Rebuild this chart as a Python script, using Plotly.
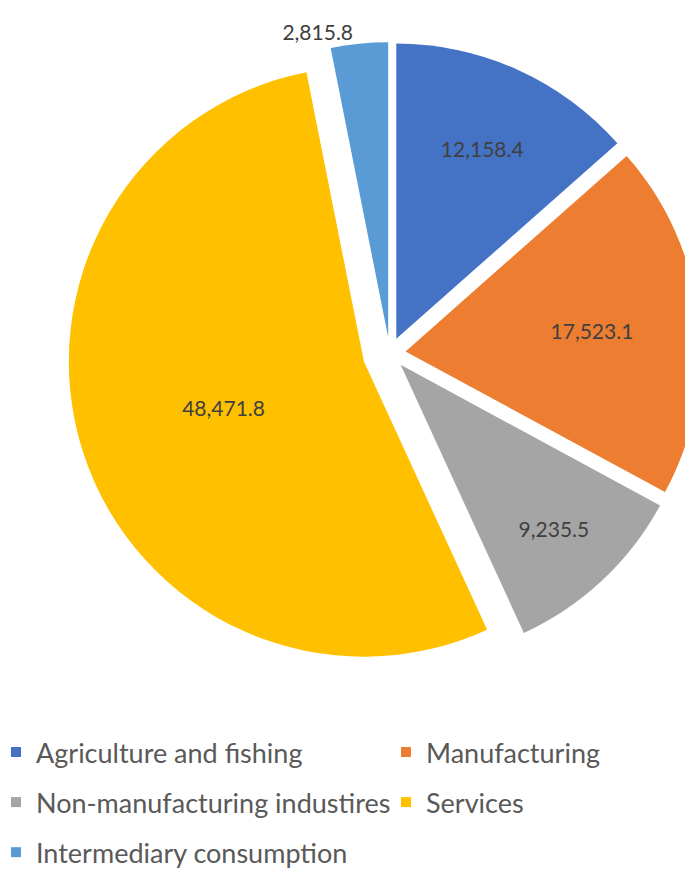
import plotly.graph_objects as go

categories = ["Agriculture and fishing", "Manufacturing", "Non-manufacturing industires",
              "Services", "Intermediary consumption"]
values = [12158.4, 17523.1, 9235.5, 48471.8, 2815.8]
colors = ["#4472C4", "#ED7D31", "#A5A5A5", "#FFC000", "#5B9BD5"]
explode = [0.054, 0.054, 0.054, 0.092, 0.054]
text_positions = ["inside", "inside", "inside", "inside", "outside"]

# legend layout: which legend column each category belongs to
legend_column = ["legend", "legend2", "legend", "legend2", "legend"]

FONT = "Lato"
W, H = 704, 862

fig = go.Figure()
fig.add_trace(go.Pie(
    labels=categories,
    values=values,
    sort=False,
    direction="clockwise",
    rotation=0,
    pull=explode,
    marker=dict(colors=colors, line=dict(width=0)),
    texttemplate="%{value:,.1f}",
    textposition=text_positions,
    insidetextorientation="horizontal",
    textfont=dict(family=FONT, size=21, color="#404040"),
    showlegend=False,
    domain=dict(x=[0.0845, 1.0], y=[0.2248, 0.9742]),
))

# legend entries (no visible marks)
for cat, col, leg in zip(categories, colors, legend_column):
    fig.add_trace(go.Scatter(
        x=[None], y=[None], mode="markers", name=cat,
        marker=dict(symbol="square", size=10, color=col),
        legend=leg, legendgroup=cat, showlegend=True, hoverinfo="skip",
    ))

legend_common = dict(
    orientation="v", xanchor="left", yanchor="top",
    font=dict(family=FONT, size=27, color="#595959"),
    bgcolor="rgba(0,0,0,0)", tracegroupgap=12, itemclick=False,
)
fig.update_layout(
    width=W, height=H,
    margin=dict(l=0, r=0, t=0, b=0, autoexpand=False),
    paper_bgcolor="white", plot_bgcolor="white",
    xaxis=dict(visible=False), yaxis=dict(visible=False),
    legend=dict(x=-0.01705, y=0.1648, **legend_common),
    legend2=dict(x=0.5369, y=0.1648, **legend_common),
)

fig.write_html("out.html")
